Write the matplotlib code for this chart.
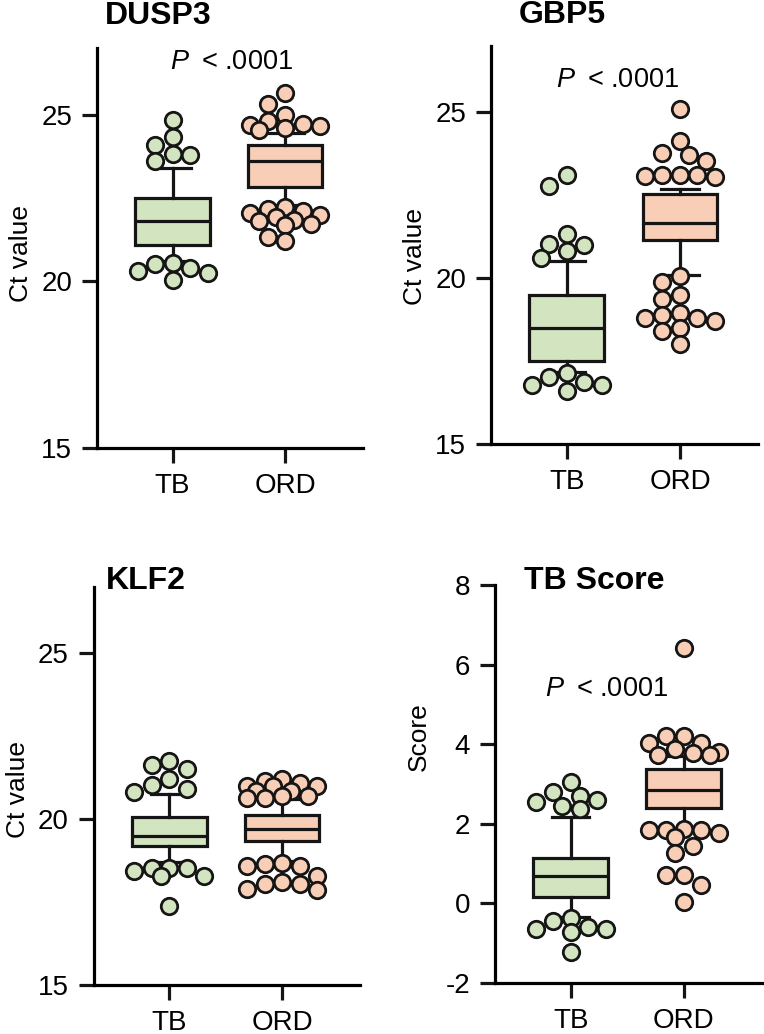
import numpy as np
import matplotlib
matplotlib.use('Agg')
import matplotlib.pyplot as plt

plt.rcParams['font.family'] = ['Liberation Sans', 'DejaVu Sans']
plt.rcParams['axes.unicode_minus'] = False
plt.rcParams['mathtext.fontset'] = 'custom'
plt.rcParams['mathtext.it'] = 'Liberation Sans:italic'
plt.rcParams['mathtext.rm'] = 'Liberation Sans'

groups = ['TB', 'ORD']
green = '#d2e4c0'
orange = '#f8ceb6'
edge = '#151515'

# box stats per panel: [TB, ORD] -> (whislo, q1, med, q3, whishi)
dusp3_box = [(20.6, 21.1, 21.8, 22.5, 23.4), (22.3, 22.82, 23.6, 24.1, 24.45)]
dusp3_tb_pts = [24.83, 24.33, 24.10, 23.83, 23.80, 23.60, 20.54, 20.51, 20.41, 20.31, 20.26, 20.04]
dusp3_ord_pts = [25.65, 25.31, 25.0, 24.8, 24.73, 24.7, 24.66, 24.6, 24.55,
                 22.22, 22.18, 22.12, 22.05, 22.0, 21.92, 21.85, 21.8, 21.72, 21.68, 21.32, 21.22]

gbp5_box = [(17.18, 17.49, 18.49, 19.48, 20.53), (20.1, 21.15, 21.65, 22.55, 22.7)]
gbp5_tb_pts = [23.1, 22.78, 21.32, 21.02, 21.0, 20.82, 20.62, 17.13, 17.02, 16.87, 16.79, 16.78, 16.6]
gbp5_ord_pts = [25.09, 24.13, 23.78, 23.7, 23.53, 23.12, 23.1, 23.1, 23.08, 23.05,
                20.05, 19.88, 19.5, 19.37, 18.95, 18.9, 18.8, 18.8, 18.7, 18.5, 18.4, 18.0]

klf2_box = [(18.7, 19.18, 19.5, 20.05, 20.75), (18.75, 19.35, 19.7, 20.12, 20.6)]
klf2_tb_pts = [21.76, 21.63, 21.5, 21.2, 21.02, 20.9, 20.82, 18.54, 18.54, 18.54, 18.44, 18.29, 18.29, 17.38]
klf2_ord_pts = [21.2, 21.15, 21.1, 21.0, 21.0, 21.0, 20.85, 20.85, 20.7, 20.7, 20.65, 20.65,
                18.68, 18.65, 18.6, 18.6, 18.3, 18.1, 18.04, 18.04, 17.9, 17.85]

score_box = [(-0.33, 0.16, 0.70, 1.15, 2.16), (1.9, 2.39, 2.85, 3.37, 3.7)]
score_tb_pts = [3.05, 2.8, 2.7, 2.6, 2.55, 2.45, 2.38, -0.36, -0.44, -0.6, -0.64, -0.64, -0.72, -1.22]
score_ord_pts = [6.42, 4.2, 4.2, 4.04, 4.04, 3.87, 3.8, 3.77, 3.74, 3.72,
                 1.87, 1.85, 1.85, 1.85, 1.78, 1.66, 1.45, 1.27, 0.72, 0.72, 0.47, 0.03]

panels = [
    dict(title='DUSP3', box=dusp3_box, pts=[dusp3_tb_pts, dusp3_ord_pts], ylim=(15, 27),
         yticks=[15, 20, 25], ylabel='Ct value', ly=0.485, pos=[0.127, 0.5667, 0.348, 0.387],
         tpos=(0.23, 1.08), ptext=(0.52, 26.57)),
    dict(title='GBP5', box=gbp5_box, pts=[gbp5_tb_pts, gbp5_ord_pts], ylim=(15, 27),
         yticks=[15, 20, 25], ylabel='Ct value', ly=0.47, pos=[0.6427, 0.5706, 0.3495, 0.385],
         tpos=(0.266, 1.078), ptext=(0.45, 25.97)),
    dict(title='KLF2', box=klf2_box, pts=[klf2_tb_pts, klf2_ord_pts], ylim=(15, 27),
         yticks=[15, 20, 25], ylabel='Ct value', ly=0.49, pos=[0.123, 0.0474, 0.348, 0.385],
         tpos=(0.194, 1.015), ptext=None),
    dict(title='TB Score', box=score_box, pts=[score_tb_pts, score_ord_pts], ylim=(-2, 8),
         yticks=[-2, 0, 2, 4, 6, 8], ylabel='Score', ly=0.62, pos=[0.648, 0.0493, 0.349, 0.385],
         tpos=(0.371, 1.01), ptext=(0.32, 5.38)),
]


def swarm(ax, vals, center, d, max_k=4):
    # compact beeswarm in pixel space, points may overlap a little
    placed = []
    xs = []
    cx = ax.transData.transform((center, 0))[0]
    step = d * 0.5
    offsets = [0.0]
    for k in range(1, max_k + 1):
        offsets += [-k * step, k * step]
    for v in vals:
        yp = ax.transData.transform((center, v))[1]
        best, best_dist = 0.0, -1
        for off in offsets:
            x = cx + off
            dist = min([np.hypot(x - px, yp - py) for px, py in placed] or [1e9])
            if dist >= d * 0.85:
                best = off
                break
            if dist > best_dist:
                best, best_dist = off, dist
        placed.append((cx + best, yp))
        xs.append(ax.transData.inverted().transform((cx + best, yp))[0])
    return xs


fig = plt.figure(figsize=(7.64, 10.34), dpi=100)

for p in panels:
    ax = fig.add_axes(p['pos'])
    ax.set_xlim(-0.67, 1.69)
    ax.set_ylim(*p['ylim'])

    stats = []
    for (lo, q1, med, q3, hi), g in zip(p['box'], groups):
        stats.append(dict(whislo=lo, q1=q1, med=med, q3=q3, whishi=hi, fliers=[], label=g))
    bp = ax.bxp(stats, positions=[0, 1], widths=0.66, capwidths=0.33, patch_artist=True,
                showfliers=False,
                boxprops=dict(linewidth=2.3, edgecolor=edge),
                medianprops=dict(linewidth=2.3, color=edge),
                whiskerprops=dict(linewidth=2.3, color=edge),
                capprops=dict(linewidth=2.3, color=edge))
    for patch, c in zip(bp['boxes'], [green, orange]):
        patch.set_facecolor(c)

    for i, (vals, c) in enumerate(zip(p['pts'], [green, orange])):
        xs = swarm(ax, vals, i, 17.5)
        ax.scatter(xs, vals, s=140, color=c, edgecolor=edge, linewidth=2.0, zorder=5, clip_on=False)

    ax.spines['top'].set_visible(False)
    ax.spines['right'].set_visible(False)
    ax.spines['left'].set_linewidth(2.3)
    ax.spines['bottom'].set_linewidth(2.3)
    ax.set_xticks([0, 1])
    ax.set_xticklabels(groups)
    ax.set_yticks(p['yticks'])
    ax.tick_params(axis='both', labelsize=20, length=11, width=2.3, pad=7, color=edge)
    ax.set_ylabel(p['ylabel'], fontsize=19)
    ax.yaxis.set_label_coords(-0.24, p['ly'])
    ax.text(p['tpos'][0], p['tpos'][1], p['title'], transform=ax.transAxes, fontsize=23,
            fontweight='bold', ha='center', va='center')
    if p['ptext'] is not None:
        ax.text(p['ptext'][0], p['ptext'][1], r'$\it{P}$' + '\u2009 < .0001', fontsize=19.5,
                ha='center', va='center')

fig.savefig('out.png', dpi=100)
